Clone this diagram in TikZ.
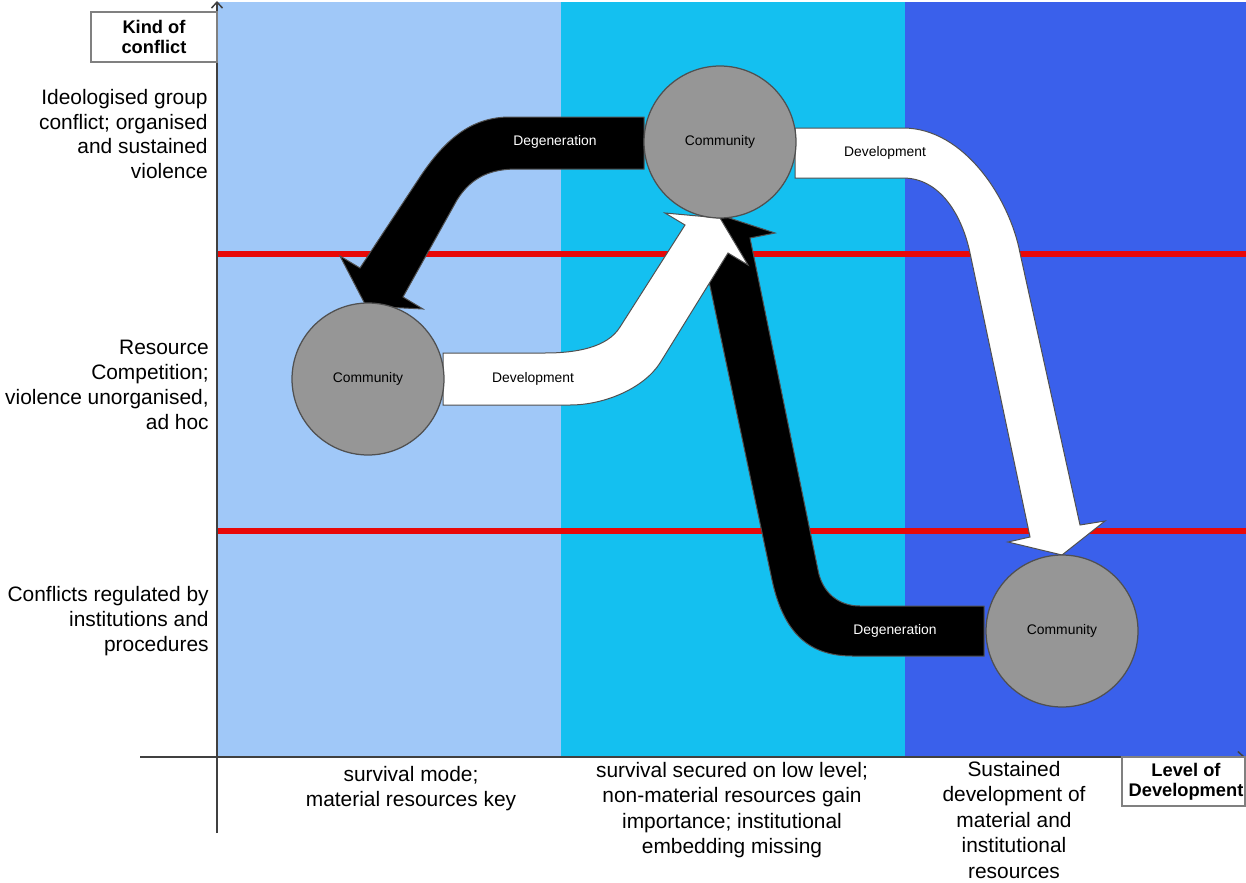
\documentclass[tikz,border=0pt]{standalone}
\usepackage{fontspec}
\setmainfont{Liberation Sans}
\usetikzlibrary{arrows.meta}
\definecolor{bandA}{RGB}{160,200,248}
\definecolor{bandB}{RGB}{20,192,240}
\definecolor{bandC}{RGB}{58,96,235}
\definecolor{redline}{RGB}{232,8,8}
\definecolor{commgray}{RGB}{150,150,150}
\definecolor{axisgray}{RGB}{64,64,64}
\definecolor{edgegray}{RGB}{80,80,80}
\begin{document}
\begin{tikzpicture}[x=0.02cm,y=-0.02cm,
  bigW/.style={fill=white, draw=edgegray, line width=0.02cm, line join=miter},
  bigB/.style={fill=black, draw=edgegray, line width=0.02cm, line join=miter},
  comm/.style={circle, fill=commgray, draw=edgegray, line width=0.025cm, minimum size=3.04cm, inner sep=0pt, font=\fontsize{7.9}{9}\selectfont},
  lbl/.style={font=\fontsize{11.9}{14.2}\selectfont, inner sep=0pt},
  blbl/.style={font=\fontsize{11.9}{14.5}\selectfont, inner sep=0pt},
  boxlbl/.style={font=\bfseries\fontsize{10.4}{11.3}\selectfont, align=center, inner sep=0pt},
  arrlbl/.style={font=\fontsize{7.9}{9}\selectfont, inner sep=0pt},
  axisline/.style={draw=axisgray, line width=0.03cm},
  sepline/.style={draw=redline, line width=0.12cm}
]
\useasboundingbox (0,0) rectangle (1246,882);
% bands
\fill[bandA] (217,2) rectangle (561,757);
\fill[bandB] (561,2) rectangle (905,757);
\fill[bandC] (905,2) rectangle (1246,757);
% red separators
\draw[sepline] (217,254) -- (1246,254);
\draw[sepline] (217,531) -- (1246,531);
% axes
\draw[axisline, -{Straight Barb[length=0.12cm, width=0.22cm]}] (217,833) -- (217,1);
\draw[axisline, -{Straight Barb[length=0.12cm, width=0.22cm]}] (140,757) -- (1245,757);
% boxes
\draw[draw=gray, fill=white, line width=0.025cm] (91,12) rectangle (217,62);
\node[boxlbl] (kind) at (154,37) {Kind of\\conflict};
\draw[draw=gray, fill=white, line width=0.025cm] (1122,757) rectangle (1245,806);
\node[boxlbl] (level) at (1186,782) {Level of\\Development};
% arrow 4: black Degeneration, bottom-right to top
\path[bigB] (984,606) -- (860,606) .. controls (838,606) and (822,592) .. (818,570)
  -- (750,238) -- (775,233) -- (720,215) -- (677,254) -- (702,248)
  -- (772,580) .. controls (785,640) and (815,656) .. (853,656) -- (984,656) -- cycle;
% arrow 1: black Degeneration, top to left
\path[bigB] (644,117) -- (510,117) .. controls (470,117) and (444,141) .. (420,177)
  -- (360,268) -- (340,256) -- (366,306) -- (423,309) -- (403,297)
  -- (457,200) .. controls (472,176) and (492,169) .. (517,169) -- (644,169) -- cycle;
% arrow 2: white Development, left to top
\path[bigW] (443,353) -- (545,353) .. controls (575,353) and (607,348) .. (620,327)
  -- (685,225) -- (665,213) -- (720,218) -- (748,265) -- (728,253)
  -- (660,363) .. controls (644,388) and (605,405) .. (570,405) -- (443,405) -- cycle;
% arrow 3: white Development, top to bottom-right
\path[bigW] (795,128) -- (903,128) .. controls (965,128) and (1010,200) .. (1020,253)
  -- (1080,525) -- (1105,521) -- (1062,555) -- (1008,542) -- (1030,537)
  -- (970,253) .. controls (962,215) and (940,178) .. (903,178) -- (795,178) -- cycle;
% arrow labels
\node[arrlbl, text=white] (deg1) at (555,142) {Degeneration};
\node[arrlbl, text=black] (dev1) at (533,379) {Development};
\node[arrlbl, text=black] (dev2) at (885,153) {Development};
\node[arrlbl, text=white] (deg2) at (895,631) {Degeneration};
% communities
\node[comm] (ctop) at (720,142) {Community};
\node[comm] (cleft) at (368,379) {Community};
\node[comm] (cright) at (1062,631) {Community};
% left labels
\node[lbl, align=right, anchor=east] (k1) at (208,134) {Ideologised group\\conflict; organised\hspace*{0.28em}\\and sustained\\violence};
\node[lbl, align=right, anchor=east] (k2) at (209,385) {Resource\\Competition;\\violence unorganised,\\ad hoc};
\node[lbl, align=right, anchor=east] (k3) at (209,621) {Conflicts regulated by\\institutions and\\procedures};
% bottom labels
\node[blbl, align=center, anchor=north] (l1) at (411,766) {survival mode;\\material resources key};
\node[blbl, align=center, anchor=north] (l2) at (732,762) {survival secured on low level;\\non-material resources gain\\importance; institutional\\embedding missing};
\node[blbl, align=center, anchor=north] (l3) at (1014,761) {Sustained\\development of\\material and\\institutional\\resources};
\end{tikzpicture}
\end{document}
